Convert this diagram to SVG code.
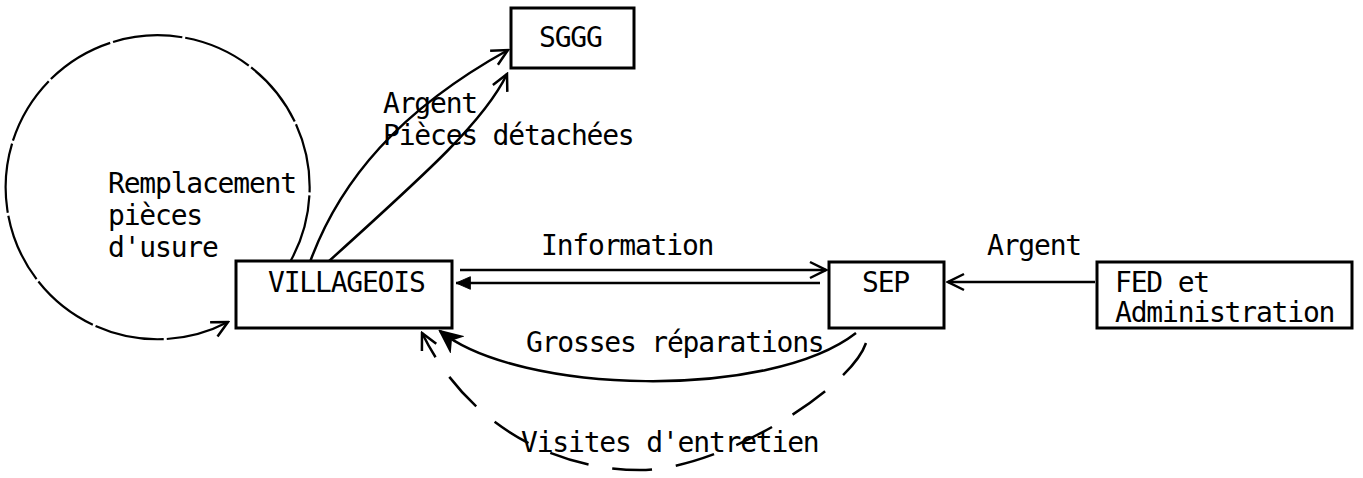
<svg xmlns="http://www.w3.org/2000/svg" width="1363" height="478" viewBox="0 0 1363 478">
<style>
  .box { fill: #fff; stroke: #000; stroke-width: 3; }
  .t { font-family: "DejaVu Sans Mono", "Liberation Mono", monospace; font-size: 28px; letter-spacing: -1.2px; fill: #000; }
  .c { fill: none; stroke: #000; stroke-width: 2.5; }
  .d { fill: none; stroke: #000; stroke-width: 2.5; stroke-dasharray: 40 24; }
  .l { fill: none; stroke: #000; stroke-width: 2.2; stroke-dasharray: 70 3; }
</style>
<defs>
  <marker id="open" viewBox="0 0 20 20" refX="18" refY="10" markerWidth="20" markerHeight="20" markerUnits="userSpaceOnUse" orient="auto">
    <path d="M2,2 L18,10 L2,18" fill="none" stroke="#000" stroke-width="2.5"/>
  </marker>
  <marker id="fill" viewBox="0 0 20 20" refX="18" refY="10" markerWidth="18" markerHeight="18" markerUnits="userSpaceOnUse" orient="auto">
    <path d="M2,3 L18,10 L2,17 Z" fill="#000" stroke="#000" stroke-width="1"/>
  </marker>
  <marker id="heavy" viewBox="0 0 24 24" refX="22" refY="12" markerWidth="24" markerHeight="24" markerUnits="userSpaceOnUse" orient="auto">
    <path d="M2,3 L22,12 L2,21 L8,12 Z" fill="#000" stroke="#000" stroke-width="2"/>
  </marker>
</defs>
<rect width="1363" height="478" fill="#fff"/>

<g id="connectors">
  <!-- self loop -->
  <path class="l" d="M290,262 A152,152 0 1 0 228,322" marker-end="url(#open)"/>
  <!-- to SGGG -->
  <path class="c" d="M310,262 C340,180 400,110 508,50" marker-end="url(#open)"/>
  <path class="c" d="M328,262 C430,170 485,120 507,74" marker-end="url(#open)"/>
  <!-- Information -->
  <line class="c" x1="460" y1="270" x2="826" y2="270" marker-end="url(#open)"/>
  <line class="c" x1="820" y1="283" x2="456" y2="283" marker-end="url(#fill)"/>
  <!-- Argent -->
  <line class="c" x1="1095" y1="282" x2="948" y2="282" marker-end="url(#open)"/>
  <!-- Grosses reparations -->
  <path class="c" d="M856,333 C770,400 520,395 440,331" marker-end="url(#heavy)"/>
  <!-- Visites d'entretien -->
  <path class="d" d="M866,343 C850,390 720,470 640,470 C560,470 470,430 422,333" marker-end="url(#open)"/>
</g>

<g id="sggg">
  <rect class="box" x="511" y="8" width="123" height="60"/>
  <text class="t" x="539" y="47">SGGG</text>
</g>
<g id="villageois">
  <rect class="box" x="236" y="261" width="216" height="67"/>
  <text class="t" x="268" y="292">VILLAGEOIS</text>
</g>
<g id="sep">
  <rect class="box" x="829" y="262" width="115" height="66"/>
  <text class="t" x="862" y="292">SEP</text>
</g>
<g id="fed">
  <rect class="box" x="1097" y="262" width="255" height="66"/>
  <text class="t" x="1115" y="292">FED et</text>
  <text class="t" x="1115" y="322">Administration</text>
</g>

<g id="labels">
  <text class="t" x="108" y="193">Remplacement</text>
  <text class="t" x="108" y="225">pièces</text>
  <text class="t" x="108" y="257">d'usure</text>
  <text class="t" x="383" y="113">Argent</text>
  <text class="t" x="383" y="145">Pièces détachées</text>
  <text class="t" x="541" y="255">Information</text>
  <text class="t" x="987" y="255">Argent</text>
  <text class="t" x="526" y="352">Grosses réparations</text>
  <text class="t" x="521" y="452">Visites d'entretien</text>
</g>
</svg>
